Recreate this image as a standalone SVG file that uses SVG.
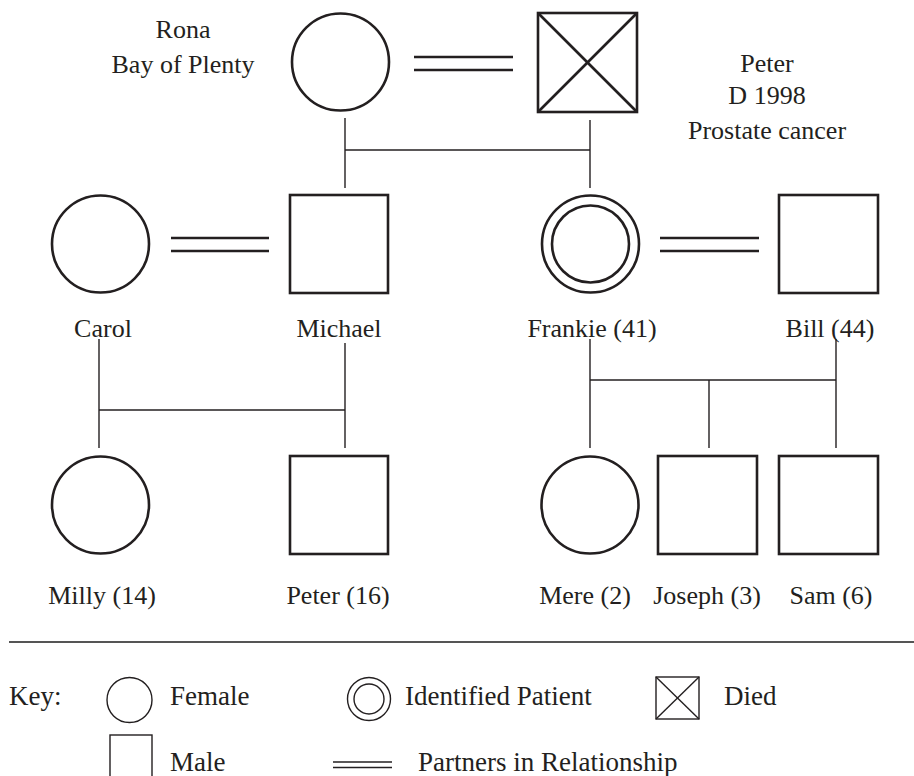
<svg xmlns="http://www.w3.org/2000/svg" width="914" height="776" viewBox="0 0 914 776">
<style>
.s{fill:#fff;stroke:#231f20;stroke-width:2.6}
.k{fill:none;stroke:#231f20;stroke-width:1.4}
.c{fill:none;stroke:#231f20;stroke-width:1.4}
.eq{stroke:#231f20;stroke-width:2.6}
.eqk{stroke:#231f20;stroke-width:1.4}
text{font-family:"Liberation Serif","Times New Roman",serif;font-size:26px;fill:#231f20}
.m{text-anchor:middle}
.kt{font-size:27px}
</style>
<rect width="914" height="776" fill="#fff"/>
<g id="connectors">
<line class="c" x1="345" y1="118" x2="345" y2="188"/>
<line class="c" x1="590" y1="120" x2="590" y2="188"/>
<line class="c" x1="345" y1="150" x2="590" y2="150"/>
<line class="c" x1="99" y1="339" x2="99" y2="448"/>
<line class="c" x1="345" y1="343" x2="345" y2="448"/>
<line class="c" x1="99" y1="410" x2="345" y2="410"/>
<line class="c" x1="590" y1="339" x2="590" y2="448"/>
<line class="c" x1="836" y1="339" x2="836" y2="448"/>
<line class="c" x1="709" y1="380" x2="709" y2="448"/>
<line class="c" x1="590" y1="380" x2="836" y2="380"/>
<line class="eq" x1="414" y1="57" x2="513" y2="57"/>
<line class="eq" x1="414" y1="70" x2="513" y2="70"/>
<line class="eq" x1="171" y1="238" x2="269" y2="238"/>
<line class="eq" x1="171" y1="251" x2="269" y2="251"/>
<line class="eq" x1="660" y1="238" x2="759" y2="238"/>
<line class="eq" x1="660" y1="251" x2="759" y2="251"/>
</g>
<g id="rona">
<circle class="s" cx="340.5" cy="62" r="48.5"/>
<text class="m" x="183" y="38">Rona</text>
<text class="m" x="183" y="73">Bay of Plenty</text>
</g>
<g id="peter-sr">
<rect class="s" x="538" y="13" width="99" height="99"/>
<line class="eq" x1="538" y1="13" x2="637" y2="112"/>
<line class="eq" x1="637" y1="13" x2="538" y2="112"/>
<text class="m" x="767" y="72">Peter</text>
<text class="m" x="767" y="104">D 1998</text>
<text class="m" x="767" y="139">Prostate cancer</text>
</g>
<g id="carol">
<circle class="s" cx="100.5" cy="244" r="48.5"/>
<text class="m" x="103" y="337">Carol</text>
</g>
<g id="michael">
<rect class="s" x="290" y="195" width="98" height="98"/>
<text class="m" x="339" y="337">Michael</text>
</g>
<g id="frankie">
<circle class="s" cx="590.5" cy="244" r="48.5"/>
<circle class="s" cx="590.5" cy="244" r="38.5"/>
<text class="m" x="592" y="337">Frankie (41)</text>
</g>
<g id="bill">
<rect class="s" x="779" y="195" width="99" height="98"/>
<text class="m" x="830" y="337">Bill (44)</text>
</g>
<g id="milly">
<circle class="s" cx="100.5" cy="505" r="48.5"/>
<text class="m" x="102" y="604">Milly (14)</text>
</g>
<g id="peter-jr">
<rect class="s" x="290" y="456" width="98" height="98"/>
<text class="m" x="338" y="604">Peter (16)</text>
</g>
<g id="mere">
<circle class="s" cx="590" cy="505" r="48.5"/>
<text class="m" x="585" y="604">Mere (2)</text>
</g>
<g id="joseph">
<rect class="s" x="658" y="456" width="99" height="98"/>
<text class="m" x="707" y="604">Joseph (3)</text>
</g>
<g id="sam">
<rect class="s" x="779" y="456" width="99" height="98"/>
<text class="m" x="831" y="604">Sam (6)</text>
</g>
<g id="key">
<line x1="9" y1="642" x2="914" y2="642" stroke="#555" stroke-width="2"/>
<text class="kt" x="9" y="705">Key:</text>
<circle class="k" cx="129.5" cy="700" r="22.5"/>
<text class="kt" x="170" y="705">Female</text>
<circle class="k" cx="369" cy="699" r="21.5"/>
<circle class="k" cx="369" cy="699" r="15"/>
<text class="kt" x="405" y="705">Identified Patient</text>
<rect class="k" x="656" y="677" width="43" height="42"/>
<line class="k" x1="656" y1="677" x2="699" y2="719"/>
<line class="k" x1="699" y1="677" x2="656" y2="719"/>
<text class="kt" x="724" y="705">Died</text>
<rect class="k" x="110" y="735" width="42" height="50"/>
<text class="kt" x="170" y="771">Male</text>
<line class="eqk" x1="333" y1="762" x2="392" y2="762"/>
<line class="eqk" x1="333" y1="767.5" x2="392" y2="767.5"/>
<text class="kt" x="418" y="771">Partners in Relationship</text>
</g>
</svg>
